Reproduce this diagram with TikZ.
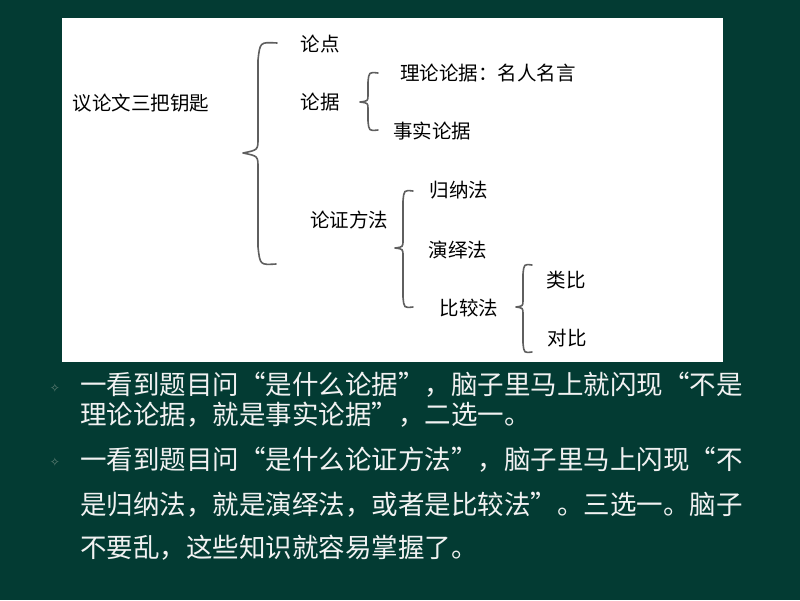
\documentclass[tikz,border=0pt]{standalone}
\usepackage{fontspec}
\newfontfamily\cjk{Noto Sans CJK SC}
\newfontfamily\symf{DejaVu Sans}
\definecolor{bgteal}{RGB}{3,59,51}
\definecolor{bracegray}{RGB}{95,95,95}
\definecolor{bodywhite}{RGB}{242,242,242}
\definecolor{bulletgray}{RGB}{100,130,120}
\newcommand{\myoq}{\makebox[1em][r]{“}}
\newcommand{\mycq}{\makebox[1em][l]{”}}
\tikzset{
  lbl/.style={inner sep=0pt, text=black, font=\cjk\fontsize{19.5}{22}\selectfont},
  bodyline/.style={inner sep=0pt, anchor=west, text=bodywhite, font=\cjk\fontsize{26.5}{30}\selectfont},
  bulletmark/.style={inner sep=0pt, text=bulletgray, font=\symf\fontsize{12}{13}\selectfont},
  bracestroke/.style={draw=bracegray, line width=1.6pt, line cap=round, line join=round},
}
\begin{document}
\begin{tikzpicture}[x=1pt,y=-1pt]
\useasboundingbox (0,0) rectangle (800,600);
\fill[bgteal] (0,0) rectangle (800,600);
\fill[white] (62,18) rectangle (723,362);

% labels
\node[lbl] (root) at (141,103) {议论文三把钥匙};
\node[lbl] (ld) at (320,44) {论点};
\node[lbl] (lj) at (320,102) {论据};
\node[lbl] (llj) at (488,73) {理论论据：名人名言};
\node[lbl] (ssj) at (432,131) {事实论据};
\node[lbl] (lzff) at (349,220) {论证方法};
\node[lbl] (gnf) at (459,190) {归纳法};
\node[lbl] (yyf) at (458,250) {演绎法};
\node[lbl] (bjf) at (469,308) {比较法};
\node[lbl] (lb) at (566,280) {类比};
\node[lbl] (db) at (567,338) {对比};

% braces
% big brace
\draw[bracestroke] (277,43) .. controls (260,42) .. (258,60) -- (258,138)
  .. controls (258,150) .. (243,153) .. controls (258,156) .. (258,168)
  -- (258,247) .. controls (260,265) .. (276,264);
% brace for 论据
\draw[bracestroke] (378,73) .. controls (369,72) .. (368,82) -- (368,95)
  .. controls (368,101) .. (360,102) .. controls (368,103) .. (368,109)
  -- (368,121) .. controls (369,131) .. (378,130);
% brace for 论证方法
\draw[bracestroke] (413,191) .. controls (404,190) .. (403,201) -- (403,240)
  .. controls (403,247) .. (395,248) .. controls (403,249) .. (403,256)
  -- (403,297) .. controls (404,308) .. (413,307);
% brace for 比较法
\draw[bracestroke] (532,265) .. controls (524,264) .. (523,274) -- (523,300)
  .. controls (523,306) .. (516,307) .. controls (523,308) .. (523,314)
  -- (523,343) .. controls (524,353) .. (532,352);

% body text
\node[bulletmark] (b1) at (55,388) {✧};
\node[bulletmark] (b2) at (55,462) {✧};
\node[bodyline] (t1) at (80,385) {一看到题目问\myoq 是什么论据\mycq ，脑子里马上就闪现\myoq 不是};
\node[bodyline] (t2) at (80,415) {理论论据，就是事实论据\mycq ，二选一。};
\node[bodyline] (t3) at (80,460) {一看到题目问\myoq 是什么论证方法\mycq ，脑子里马上闪现\myoq 不};
\node[bodyline] (t4) at (80,505) {是归纳法，就是演绎法，或者是比较法\mycq 。三选一。脑子};
\node[bodyline] (t5) at (80,548) {不要乱，这些知识就容易掌握了。};
\end{tikzpicture}
\end{document}
